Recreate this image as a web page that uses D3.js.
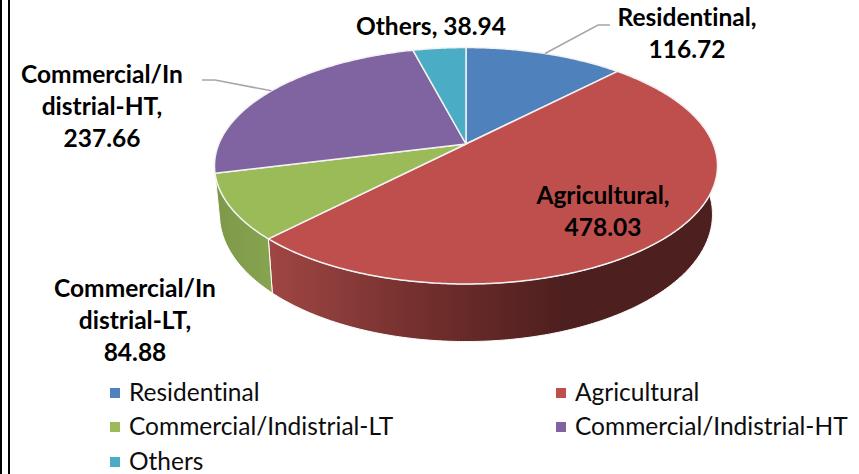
<!DOCTYPE html>
<html><head><meta charset="utf-8">
<script src="https://cdn.jsdelivr.net/npm/d3@7/dist/d3.min.js"></script>
<style>html,body{margin:0;padding:0;background:#fff}svg{display:block}text{font-variant-ligatures:none}</style>
</head><body><svg id="c" width="859" height="474"></svg>
<script>
const categories = ["Residentinal","Agricultural","Commercial/Indistrial-LT","Commercial/Indistrial-HT","Others"];
const values = [116.72,478.03,84.88,237.66,38.94];
const colors = ["#4F81BD","#BE4F4C","#9BBB59","#8064A2","#4BACC6"];
const labelLines = [["Residentinal,","116.72"],["Agricultural,","478.03"],["Commercial/In","distrial-LT,","84.88"],["Commercial/In","distrial-HT,","237.66"],["Others, 38.94"]];
const labelCenters = [[687,26],[603,204],[135,297],[102,83],[431,35]];
const leaderBends = [[[598,25],[610,25]],null,null,[[215,80],[202,80]],null];

const W=859,H=474, cx=466, cy=144, A=247.2, B=114.2, K=0.184, DEPTH=47, SHRINK=0.98;
const svg=d3.select("#c");
const defs=svg.append("defs");
const arcs=d3.pie().sort(null).value(d=>d)(values);

function rim(t,bottom){
  const u=Math.sin(t), v=-Math.cos(t), w=1-K*v;
  const x=A*u/w, y=B*v/w;
  return bottom ? [cx+x*SHRINK, cy+y+DEPTH/w] : [cx+x, cy+y];
}
function samples(a0,a1){
  const n=Math.max(2,Math.ceil((a1-a0)/0.01));
  return d3.range(n+1).map(i=>a0+(a1-a0)*i/n);
}
const line=d3.line();

const g1=defs.append("linearGradient").attr("id","wall1").attr("gradientUnits","userSpaceOnUse")
  .attr("x1",268).attr("x2",565).attr("y1",0).attr("y2",0);
g1.append("stop").attr("offset",0).attr("stop-color","#A04644");
g1.append("stop").attr("offset",0.55).attr("stop-color","#6F2E2C");
g1.append("stop").attr("offset",1).attr("stop-color","#4D1F1E");
const g2=defs.append("linearGradient").attr("id","wall2").attr("gradientUnits","userSpaceOnUse")
  .attr("x1",216).attr("x2",272).attr("y1",0).attr("y2",0);
g2.append("stop").attr("offset",0).attr("stop-color","#7E9849");
g2.append("stop").attr("offset",1).attr("stop-color","#87A44F");
const wallFill={1:"url(#wall1)",2:"url(#wall2)"};

// walls
svg.append("g").selectAll("path").data(arcs.filter(d=>wallFill[d.index])).join("path")
  .attr("d",d=>{
    const ts=samples(d.startAngle,d.endAngle);
    return line(ts.map(t=>rim(t,false)).concat(ts.slice().reverse().map(t=>rim(t,true))))+"Z";
  })
  .attr("fill",d=>wallFill[d.index])
  .attr("stroke","#fff").attr("stroke-width",1);

// top face
svg.append("g").selectAll("path").data(arcs).join("path")
  .attr("d",d=>line([[cx,cy]].concat(samples(d.startAngle,d.endAngle).map(t=>rim(t,false))))+"Z")
  .attr("fill",d=>colors[d.index])
  .attr("stroke","#F2F2F2").attr("stroke-width",1.5).attr("stroke-linejoin","round");

// leaders
svg.append("g").selectAll("path").data(arcs.filter(d=>leaderBends[d.index])).join("path")
  .attr("d",d=>line([rim((d.startAngle+d.endAngle)/2,false)].concat(leaderBends[d.index])))
  .attr("fill","none").attr("stroke","#A6A6A6").attr("stroke-width",1.5);

// labels
const FONT="Lato, Carlito, sans-serif";
const lab=svg.append("g").attr("font-family",FONT).attr("font-weight",700).attr("font-size",24.5).attr("fill","#000");
labelLines.forEach((lines,i)=>{
  lines.forEach((s,j)=>{
    lab.append("text").attr("x",labelCenters[i][0]).attr("y",labelCenters[i][1]+j*32)
      .attr("text-anchor","middle").text(s);
  });
});

// legend
const legendX=[110,556], legendY=[393,427,462];
const leg=svg.append("g").attr("font-family",FONT).attr("font-size",24.5).attr("fill","#0d0d0d");
categories.forEach((c,i)=>{
  const x=legendX[i%2], y=legendY[Math.floor(i/2)];
  leg.append("rect").attr("x",x).attr("y",y-5).attr("width",10).attr("height",10).attr("fill",colors[i]);
  leg.append("text").attr("x",x+19).attr("y",y+8).text(c);
});

// frame
svg.append("rect").attr("x",0).attr("y",0).attr("width",2).attr("height",H).attr("fill","#000");
svg.append("rect").attr("x",8).attr("y",0).attr("width",2).attr("height",H).attr("fill","#000");
</script></body></html>
